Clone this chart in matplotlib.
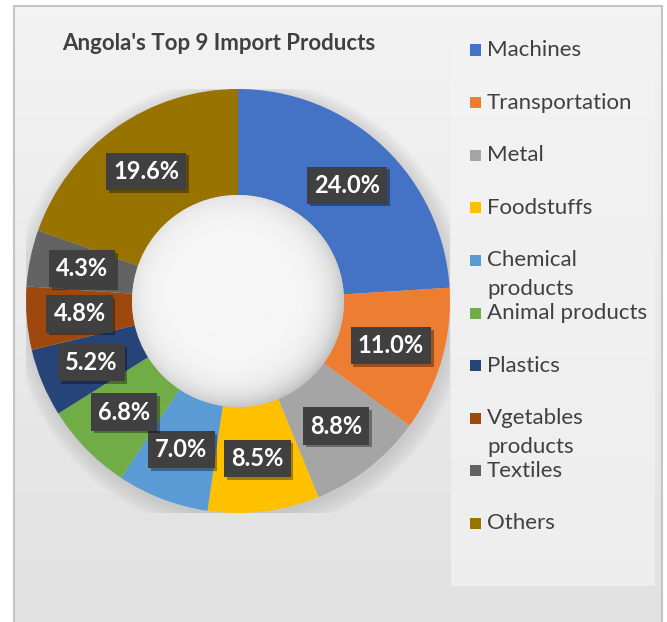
import numpy as np
import matplotlib.pyplot as plt
from matplotlib.patches import Rectangle, Circle
import matplotlib.patheffects as pe

plt.rcParams['font.family'] = ['Lato', 'DejaVu Sans']

products = ['Machines', 'Transportation', 'Metal', 'Foodstuffs', 'Chemical\nproducts',
            'Animal products', 'Plastics', 'Vgetables\nproducts', 'Textiles', 'Others']
shares = [24.0, 11.0, 8.8, 8.5, 7.0, 6.8, 5.2, 4.8, 4.3, 19.6]
colors = ['#4472C4', '#ED7D31', '#A5A5A5', '#FFC000', '#5B9BD5',
          '#70AD47', '#264478', '#9E480E', '#636363', '#997300']

W, H = 667, 622
fig = plt.figure(figsize=(W / 100, H / 100), dpi=100)
fig.patch.set_facecolor('white')

# chart panel with a soft vertical gradient
bg = fig.add_axes([14 / W, 0, 648 / W, 616 / H])
grad = np.linspace(0.95, 0.88, 200).reshape(-1, 1)
bg.imshow(grad, cmap='gray', vmin=0, vmax=1, aspect='auto', extent=[0, 1, 0, 1], origin='upper')
bg.set_xlim(0, 1)
bg.set_ylim(0, 1)
bg.axis('off')
fig.add_artist(Rectangle((14 / W, -0.05), 648 / W, 616 / H + 0.05, transform=fig.transFigure,
                         fill=False, edgecolor='#c4c4c4', lw=1.5))

# legend panel
fig.add_artist(Rectangle((451 / W, 1 - 586 / H), 204 / W, 561 / H, transform=fig.transFigure,
                         facecolor='#f3f3f3', edgecolor='none', alpha=0.7))

fig.text(62 / W, 1 - 43 / H, "Angola's Top 9 Import Products", fontsize=16,
         fontweight='bold', color='#404040', va='center', ha='left')

# donut
cx, cy, R = 238, 301, 212
ax = fig.add_axes([(cx - R) / W, (H - cy - R) / H, 2 * R / W, 2 * R / H])
ax.set_zorder(2)

for k in range(12):
    ax.add_patch(Circle((0.01, -0.02), 1.0 + 0.007 * k, color='#9a9a9a',
                        alpha=0.03, lw=0, zorder=0))

wedges, texts, autotexts = ax.pie(shares, colors=colors, startangle=90, counterclock=False,
                                  radius=1.0, autopct='%.1f%%', pctdistance=0.75,
                                  wedgeprops=dict(width=0.5, edgecolor='none'))

# hole with a slight bevel shading
n = 300
xx, yy = np.meshgrid(np.linspace(-0.5, 0.5, n), np.linspace(-0.5, 0.5, n))
rr = np.hypot(xx + 0.03, yy - 0.03) / 0.5
shade = 0.965 - 0.12 * np.clip(rr, 0, 1.1) ** 7
im = ax.imshow(shade, cmap='gray', vmin=0, vmax=1, extent=[-0.5, 0.5, -0.5, 0.5],
               origin='lower', zorder=3)
hole = Circle((0, 0), 0.5, transform=ax.transData)
im.set_clip_path(hole)

for t in autotexts:
    t.set_color('white')
    t.set_fontsize(17)
    t.set_fontweight('bold')
    t.set_zorder(5)
    t.set_bbox(dict(boxstyle='square,pad=0.3', facecolor='#404040', edgecolor='none'))
    t.get_bbox_patch().set_path_effects([
        pe.withSimplePatchShadow(offset=(2, -2), shadow_rgbFace='black', alpha=0.35),
        pe.Normal()])

ax.set_xlim(-1, 1)
ax.set_ylim(-1, 1)
ax.set_aspect('equal')
ax.axis('off')

# legend entries
for i, (name, c) in enumerate(zip(products, colors)):
    y = 50 + 52.6 * i
    fig.add_artist(Rectangle((470 / W, 1 - (y + 5.5) / H), 11 / W, 11 / H,
                             transform=fig.transFigure, facecolor=c, edgecolor='none'))
    for j, line in enumerate(name.split('\n')):
        fig.text(487 / W, 1 - (y + 29 * j) / H, line, fontsize=16, color='#404040',
                 va='center', ha='left')

fig.savefig('out.png', dpi=100)
